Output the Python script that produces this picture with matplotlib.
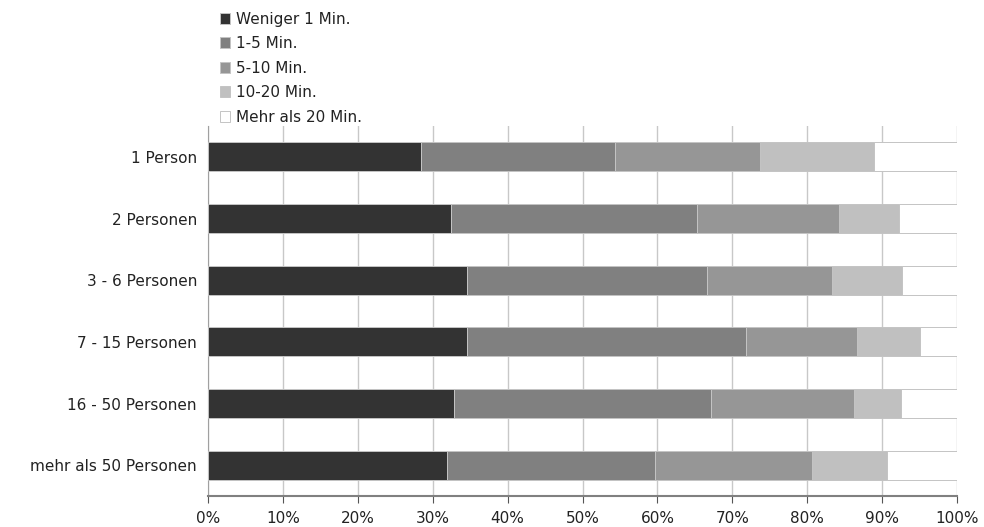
import matplotlib
matplotlib.use("Agg")
import matplotlib.pyplot as plt
import numpy as np

# Kategorien (von oben nach unten)
categories = ["1 Person", "2 Personen", "3 - 6 Personen", "7 - 15 Personen",
              "16 - 50 Personen", "mehr als 50 Personen"]
series = ["Weniger 1 Min.", "1-5 Min.", "5-10 Min.", "10-20 Min.", "Mehr als 20 Min."]

# Anteile in Prozent je Kategorie
weniger_1 = [28.5, 32.5, 34.6, 34.6, 32.9, 31.9]
min_1_5 = [25.8, 32.8, 32.0, 37.2, 34.3, 27.8]
min_5_10 = [19.4, 19.0, 16.7, 14.9, 19.0, 20.9]
min_10_20 = [15.2, 8.0, 9.4, 8.3, 6.3, 10.1]
mehr_20 = [11.1, 7.7, 7.3, 5.0, 7.5, 9.3]

values = [weniger_1, min_1_5, min_5_10, min_10_20, mehr_20]
colors = ["#333333", "#808080", "#969696", "#c0c0c0", "#ffffff"]
ticks = [0, 10, 20, 30, 40, 50, 60, 70, 80, 90, 100]

plt.rcParams["font.family"] = ["DejaVu Sans"]
text_color = "#222222"

fig = plt.figure(figsize=(9.84, 5.27), dpi=100)
ax = fig.add_axes([208 / 984, 1 - 496 / 527, 749 / 984, 370 / 527])

y = np.arange(len(categories))
left = np.zeros(len(categories))
handles = []
for vals, col, name in zip(values, colors, series):
    vals = np.array(vals)
    b = ax.barh(y, vals, left=left, height=0.47, color=col,
                edgecolor="#c4c4c4", linewidth=0.7, label=name, zorder=3)
    handles.append(b)
    left += vals

ax.set_xlim(0, 100)
ax.set_ylim(len(categories) - 0.5, -0.5)
ax.set_yticks(y)
ax.set_yticklabels(categories, fontsize=11, color=text_color)
ax.set_xticks(ticks)
ax.set_xticklabels([f"{t}%" for t in ticks], fontsize=11, color=text_color)
ax.tick_params(axis="y", length=0, pad=8)
ax.tick_params(axis="x", length=5, color="#555555", pad=5.5)

ax.grid(axis="x", color="#c8c8c8", linewidth=1, zorder=0)
for s in ["top", "right"]:
    ax.spines[s].set_visible(False)
ax.spines["left"].set_color("#a0a0a0")
ax.spines["bottom"].set_color("#808080")
ax.spines["bottom"].set_linewidth(1.5)

fig.legend(handles=handles, labels=series, loc="upper left",
           bbox_to_anchor=(212 / 984, 1 - 4 / 527), frameon=False,
           fontsize=11, handlelength=0.7, handleheight=0.7,
           handletextpad=0.35, labelspacing=0.62, borderpad=0,
           labelcolor=text_color)

fig.savefig("out.png", dpi=100)
